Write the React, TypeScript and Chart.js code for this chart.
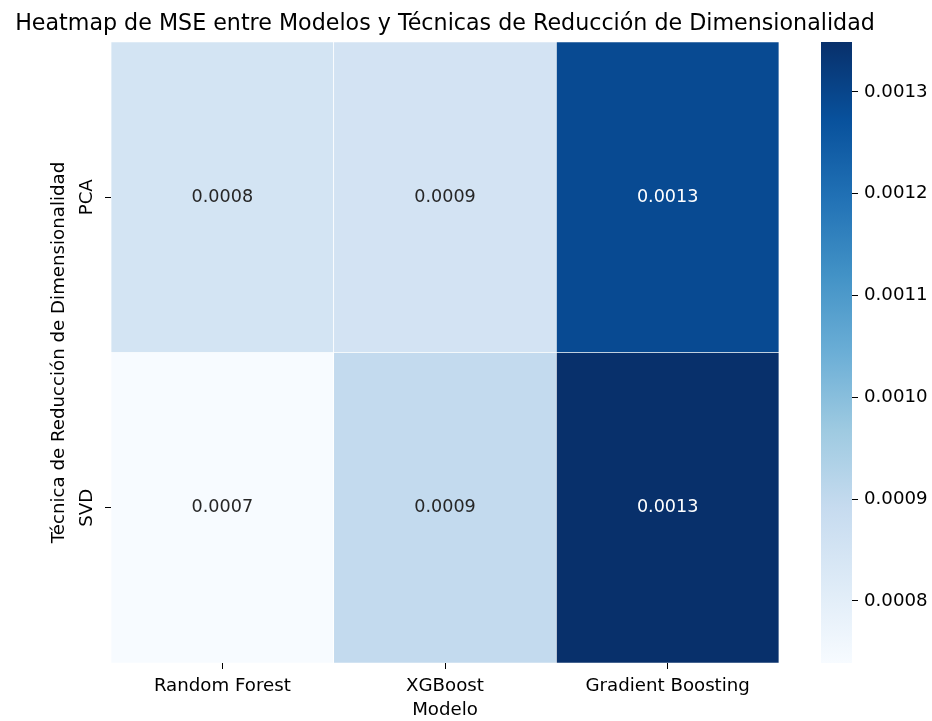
import { useEffect, useRef } from 'react';
import { Chart, registerables } from 'chart.js';

Chart.register(...registerables);

// ---- data ----
const TITLE = 'Heatmap de MSE entre Modelos y Técnicas de Reducción de Dimensionalidad';
const X_TITLE = 'Modelo';
const Y_TITLE = 'Técnica de Reducción de Dimensionalidad';
const MODELS = ['Random Forest', 'XGBoost', 'Gradient Boosting'];
const TECHNIQUES = ['PCA', 'SVD'];
const MSE_PCA = [0.000849, 0.000851, 0.001288];
const MSE_SVD = [0.000739, 0.000897, 0.001349];
const CB_TICKS = [0.0008, 0.0009, 0.001, 0.0011, 0.0012, 0.0013];

// matplotlib "Blues"
const BLUES = ['#f7fbff', '#deebf7', '#c6dbef', '#9ecae1', '#6baed6', '#4292c6', '#2171b5', '#08519c', '#08306b'];

const FONT = 'DejaVu Sans';
const TICK_SIZE = 18.2;
const ANNOT_SIZE = 17.6;
const TITLE_SIZE = 22.2;

function hexToRgb(h: string): number[] {
  return [1, 3, 5].map((i) => parseInt(h.slice(i, i + 2), 16));
}

function bluesRgb(t: number): number[] {
  const c = Math.max(0, Math.min(1, t)) * (BLUES.length - 1);
  const i = Math.min(BLUES.length - 2, Math.floor(c));
  const f = c - i;
  const a = hexToRgb(BLUES[i]);
  const b = hexToRgb(BLUES[i + 1]);
  return a.map((v, k) => Math.round(v + (b[k] - v) * f));
}

function rgbStr(c: number[]) {
  return `rgb(${c[0]},${c[1]},${c[2]})`;
}

function luminance(c: number[]) {
  const lin = c.map((v) => {
    const s = v / 255;
    return s <= 0.03928 ? s / 12.92 : Math.pow((s + 0.055) / 1.055, 2.4);
  });
  return 0.2126 * lin[0] + 0.7152 * lin[1] + 0.0722 * lin[2];
}

export default function App() {
  const ref = useRef<HTMLCanvasElement>(null);

  useEffect(() => {
    const canvas = ref.current;
    if (!canvas) return;
    const rows = [MSE_PCA, MSE_SVD];
    const all = rows.flat();
    const vmin = Math.min(...all);
    const vmax = Math.max(...all);
    const norm = (v: number) => (v - vmin) / (vmax - vmin);

    const datasets = rows.map((vals, r) => ({
      label: TECHNIQUES[r],
      data: vals.map(() => [r, r + 1]),
      backgroundColor: vals.map((v) => rgbStr(bluesRgb(norm(v)))),
      borderColor: '#ffffff',
      borderWidth: 0.7,
      borderSkipped: false as const,
      barPercentage: 1,
      categoryPercentage: 1,
      grouped: false,
    }));

    const extras = {
      id: 'heatmapExtras',
      afterDatasetsDraw(chart: any) {
        const ctx = chart.ctx;
        ctx.save();
        ctx.font = `${ANNOT_SIZE}px "${FONT}"`;
        ctx.textAlign = 'center';
        ctx.textBaseline = 'middle';
        rows.forEach((vals, r) => {
          const meta = chart.getDatasetMeta(r);
          meta.data.forEach((bar: any, j: number) => {
            const v = vals[j];
            const col = bluesRgb(norm(v));
            ctx.fillStyle = luminance(col) > 0.408 ? '#262626' : '#ffffff';
            ctx.fillText(v.toFixed(4), bar.x, (bar.y + bar.base) / 2);
          });
        });
        ctx.restore();
      },
      afterDraw(chart: any) {
        const ctx = chart.ctx;
        const area = chart.chartArea;

        // title, centred over the heatmap axes (like matplotlib)
        ctx.save();
        ctx.font = `${TITLE_SIZE}px "${FONT}"`;
        ctx.fillStyle = '#000';
        ctx.textAlign = 'center';
        ctx.textBaseline = 'alphabetic';
        ctx.fillText(TITLE, (area.left + area.right) / 2, area.top - 12.5);
        ctx.restore();

        // y tick labels (rotated, like seaborn)
        const ys = chart.scales.y;
        ctx.save();
        ctx.font = `${TICK_SIZE}px "${FONT}"`;
        ctx.fillStyle = '#000';
        ctx.textAlign = 'center';
        ctx.textBaseline = 'middle';
        ys.ticks.forEach((t: any, i: number) => {
          const y = ys.getPixelForValue(t.value);
          ctx.save();
          ctx.translate(ys.right - 6 - 17.5, y);
          ctx.rotate(-Math.PI / 2);
          ctx.fillText(TECHNIQUES[i], 0, 0);
          ctx.restore();
        });
        ctx.restore();

        // colorbar
        const cb = chart.scales.cb;
        const yTop = cb.getPixelForValue(vmax);
        const yBot = cb.getPixelForValue(vmin);
        const x1 = cb.left;
        const x0 = x1 - 31;
        const g = ctx.createLinearGradient(0, yBot, 0, yTop);
        BLUES.forEach((c, i) => g.addColorStop(i / (BLUES.length - 1), c));
        ctx.save();
        ctx.fillStyle = g;
        ctx.fillRect(x0, yTop, x1 - x0, yBot - yTop);
        ctx.restore();
      },
    };

    const chart = new Chart(canvas, {
      type: 'bar',
      data: { labels: MODELS, datasets: datasets as any },
      options: {
        animation: false,
        responsive: false,
        maintainAspectRatio: false,
        events: [],
        layout: { padding: { left: 48, right: 0, top: 42, bottom: 0 } },
        plugins: {
          legend: { display: false },
          tooltip: { enabled: false },
          title: { display: false },
        },
        scales: {
          x: {
            type: 'category',
            offset: true,
            position: 'bottom',
            grid: { display: true, drawOnChartArea: false, drawTicks: true, tickLength: 6, offset: false, color: '#000', lineWidth: 1 },
            border: { display: false },
            ticks: { color: '#000', font: { family: FONT, size: TICK_SIZE }, padding: 6, maxRotation: 0, minRotation: 0 },
            title: { display: true, text: X_TITLE, color: '#000', font: { family: FONT, size: TICK_SIZE }, padding: { top: 0, bottom: 0 } },
            afterFit: (s: any) => { s.height = 58; },
          },
          y: {
            type: 'linear',
            min: 0,
            max: TECHNIQUES.length,
            reverse: true,
            position: 'left',
            grid: { display: true, drawOnChartArea: false, drawTicks: true, tickLength: 6, color: '#000', lineWidth: 1 },
            border: { display: false },
            ticks: { display: false },
            afterBuildTicks: (s: any) => { s.ticks = TECHNIQUES.map((_, i) => ({ value: i + 0.5 })); },
            title: { display: true, text: Y_TITLE, color: '#000', font: { family: FONT, size: TICK_SIZE }, padding: { top: 0, bottom: 0 } },
            afterFit: (s: any) => { s.width = 63; },
          },
          gap: {
            type: 'linear',
            position: 'right',
            weight: 0,
            display: true,
            grid: { display: false },
            border: { display: false },
            ticks: { display: false },
            afterFit: (s: any) => { s.width = 73; },
          },
          cb: {
            type: 'linear',
            position: 'right',
            weight: 1,
            min: vmin,
            max: vmax,
            grid: { display: true, drawOnChartArea: false, drawTicks: true, tickLength: 6, color: '#000', lineWidth: 1 },
            border: { display: false },
            ticks: {
              color: '#000',
              padding: 6,
              font: { family: FONT, size: TICK_SIZE },
              callback: (v: any) => Number(v).toFixed(4),
            },
            afterBuildTicks: (s: any) => { s.ticks = CB_TICKS.map((v) => ({ value: v })); },
            afterFit: (s: any) => { s.width = 80; },
          },
        } as any,
      },
      plugins: [extras],
    });

    return () => chart.destroy();
  }, []);

  return (
    <div style={{ position: 'absolute', left: 0, top: 0, width: 932, height: 721, background: '#fff' }}>
      <canvas ref={ref} width={932} height={721} style={{ width: 932, height: 721, display: 'block' }} />
    </div>
  );
}
